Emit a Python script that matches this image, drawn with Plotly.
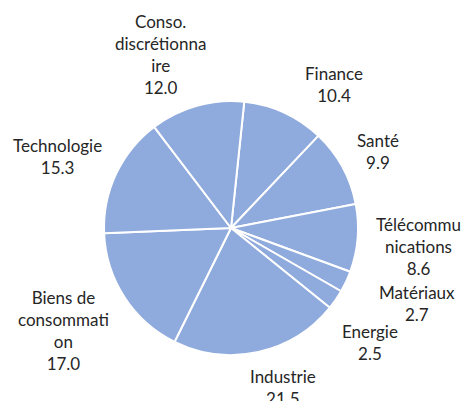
import plotly.graph_objects as go

sectors = ["Finance", "Santé", "Télécommunications", "Matériaux", "Energie",
           "Industrie", "Biens de consommation", "Technologie", "Conso. discrétionnaire"]
weights = [10.4, 9.9, 8.6, 2.7, 2.5, 21.5, 17.0, 15.3, 12.0]
wrapped_names = ["Finance", "Santé", "Télécommu<br>nications", "Matériaux", "Energie",
                 "Industrie", "Biens de<br>consommati<br>on", "Technologie",
                 "Conso.<br>discrétionna<br>ire"]

# label centres in pixels (layout only)
label_px = [(334, 84), (378, 152), (418, 246), (417, 303), (370, 342),
            (283, 387), (63, 330), (57, 157), (160, 54)]

W, H = 463, 401
cx, cy, r = 231, 228, 127

fig = go.Figure(go.Pie(
    labels=sectors,
    values=weights,
    sort=False,
    direction="clockwise",
    rotation=6,
    textinfo="none",
    hoverinfo="label+value",
    marker=dict(colors=["#8FAADC"] * len(weights), line=dict(color="white", width=2)),
    domain=dict(x=[(cx - r) / W, (cx + r) / W], y=[(H - cy - r) / H, (H - cy + r) / H]),
    showlegend=False,
))

for name, val, (px, py) in zip(wrapped_names, weights, label_px):
    fig.add_annotation(
        x=px / W, y=1 - py / H, xref="paper", yref="paper",
        text=f"{name}<br>{val:.1f}", showarrow=False,
        xanchor="center", yanchor="middle", align="center",
        font=dict(family="Lato, Open Sans, sans-serif", size=17, color="#262626"),
    )

fig.update_layout(
    width=W, height=H,
    margin=dict(l=0, r=0, t=0, b=0),
    paper_bgcolor="white",
    plot_bgcolor="white",
)

fig.write_html(
    "out.html",
    config={"displayModeBar": False},
    post_script="document.body.style.margin='0';document.body.style.overflow='hidden';",
)
